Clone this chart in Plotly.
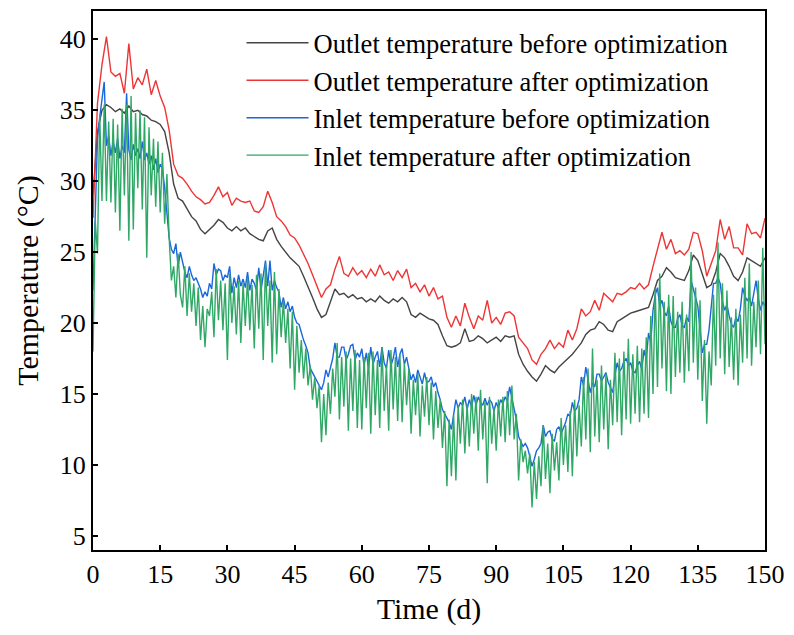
import numpy as np
import plotly.graph_objects as go

# Daily outlet temperatures (day 0..150)
days = list(range(0, 151))
outlet_before = [
    29.0, 33.5, 35.0, 35.4, 35.2, 34.9, 35.1, 34.8, 35.3, 34.9,
    35.0, 34.7, 34.6, 34.3, 34.2, 34.0, 33.5, 32.0, 29.8, 28.8,
    28.6, 28.0, 27.5, 27.2, 26.6, 26.3, 26.6, 26.9, 27.3, 27.1,
    26.7, 26.5, 26.8, 26.5, 26.7, 26.3, 26.1, 25.9, 25.8, 26.5,
    26.7, 25.9, 25.4, 25.0, 24.6, 24.3, 24.0, 23.3, 22.6, 21.8,
    21.0, 20.4, 20.6, 21.5, 22.4, 22.0, 22.1, 21.8, 22.0, 21.7,
    21.8, 21.5, 21.7, 21.5, 21.9, 21.6, 21.4, 21.7, 21.5, 21.8,
    21.5, 20.6, 20.4, 20.7, 20.5, 20.3, 20.2, 19.9, 19.1, 18.4,
    18.3, 18.4, 18.6, 19.6, 18.7, 18.8, 19.1, 18.9, 18.6, 18.8,
    19.0, 18.7, 19.1, 19.0, 19.1, 17.8, 17.1, 16.6, 16.2, 15.9,
    16.4, 17.0, 16.7, 16.5, 16.9, 17.2, 17.5, 17.8, 18.2, 18.6,
    19.2, 19.5, 19.6, 20.1, 19.9, 19.5, 19.4, 20.1, 20.3, 20.5,
    20.7, 20.8, 20.9, 21.0, 21.1, 22.0, 23.0, 23.3, 23.9, 23.6,
    23.2, 23.1, 23.0, 23.7, 24.8, 24.4, 23.4, 22.5, 22.7, 23.6,
    24.9, 24.6, 24.0, 23.3, 23.0, 23.6, 24.6, 24.4, 24.2, 24.0,
    24.6,
]
outlet_after = [
    27.4, 35.5, 38.2, 40.2, 37.7, 37.4, 37.6, 36.2, 39.7, 36.5,
    37.3, 36.8, 37.9, 36.1, 37.1, 36.0, 35.2, 33.6, 31.2, 30.4,
    30.2, 29.8, 29.3, 28.9, 28.7, 28.4, 28.5, 29.0, 29.6, 28.9,
    29.2, 28.3, 28.8, 28.6, 28.5, 28.6, 27.9, 27.8, 28.2, 29.3,
    28.5, 27.5, 27.2, 26.8, 26.2, 26.0, 25.5, 24.9, 24.2, 23.4,
    22.6, 21.8, 22.4, 22.7, 23.8, 24.7, 23.5, 23.3, 23.9, 23.4,
    23.7, 23.2, 23.8, 23.3, 24.1, 23.4, 23.6, 23.0, 23.7, 23.2,
    23.8, 22.5, 22.8, 22.2, 22.7, 21.9, 22.5, 21.7, 21.9, 20.4,
    19.7, 20.5, 19.8, 21.4, 20.4, 19.6, 20.5, 20.2, 21.6, 20.0,
    20.4, 19.9, 20.7, 20.8, 20.5, 19.0, 18.6, 18.2, 17.4, 17.1,
    17.8, 18.2, 18.8, 18.2, 18.6, 18.3, 19.5, 18.8, 19.6, 21.0,
    20.5, 20.8, 21.6, 20.9, 22.1, 21.8, 21.5, 22.1, 22.0, 22.2,
    22.5, 22.4, 22.8, 22.4, 22.7, 24.0, 25.3, 26.4, 25.2, 25.9,
    24.9, 25.1, 24.8, 25.2, 26.4, 26.3, 25.1, 23.3, 24.2, 25.1,
    27.3, 25.9, 26.8, 25.3, 25.3, 24.8, 27.0, 26.3, 26.4, 26.0,
    27.4,
]

# Half-day inlet temperatures (day 0, 0.5, ..., 150)
half_days = [i / 2 for i in range(0, 301)]
inlet_before = [
    22.3, 28.0, 33.0, 34.5, 36.0, 37.0, 32.5, 33.2, 31.8, 32.8,
    32.0, 33.0, 31.6, 32.5, 32.0, 36.2, 32.2, 31.5, 32.6, 31.8,
    32.3, 31.6, 32.8, 31.5, 32.0, 31.2, 31.8, 30.8, 31.6, 30.6,
    31.2, 30.9, 29.5, 28.0, 26.0, 25.2, 24.9, 25.6, 24.0, 25.0,
    24.2, 23.6, 23.2, 24.0, 23.4, 23.0, 23.2, 22.8, 22.4, 21.8,
    22.2, 21.9, 22.8, 22.4, 24.2, 23.4, 23.8, 23.7, 23.0, 23.4,
    23.2, 24.0, 22.1, 23.2, 22.5, 23.4, 22.6, 23.1, 22.5, 23.6,
    22.3, 23.1, 22.8, 22.3, 23.9, 22.3, 23.2, 24.4, 22.6, 24.4,
    22.3, 23.0, 22.5, 22.2, 21.1, 21.8, 21.0, 21.5, 20.8, 21.2,
    20.4, 20.0, 19.9, 19.3, 18.8, 18.4, 17.9, 16.8, 16.5, 16.1,
    15.8, 15.5, 15.3, 15.8, 16.7, 16.2, 16.8, 17.5, 18.6, 17.6,
    17.6, 18.3, 18.3, 17.4, 17.8, 18.4, 18.5, 17.4, 17.9, 17.6,
    18.2, 17.0, 17.9, 16.8, 18.3, 17.1, 17.6, 18.0, 16.9, 18.3,
    17.2, 16.8, 18.1, 17.0, 17.5, 18.3, 16.9, 17.8, 18.2, 17.1,
    17.6, 16.8, 16.0, 16.4, 15.8, 16.7, 16.2, 15.7, 16.5, 15.8,
    15.9, 16.2, 15.5, 15.8, 15.1, 14.6, 13.9, 13.6, 13.4, 13.0,
    12.5, 13.6, 14.6, 14.0, 14.4, 14.2, 14.8, 13.9, 14.6, 14.1,
    14.9, 14.2, 14.8, 14.4, 14.2, 14.7, 14.2, 14.6, 14.4, 13.8,
    14.4, 14.0, 14.6, 14.3, 14.8, 14.5, 15.5, 14.7, 13.9, 13.2,
    12.0, 11.6, 11.3, 11.5, 11.2, 10.6, 9.9, 10.4, 11.0, 11.2,
    11.5, 12.8, 12.0, 12.3, 12.4, 11.8, 11.7, 12.5, 12.7, 12.2,
    12.6, 13.0, 13.6, 13.4, 14.4, 13.8, 14.0, 14.6, 16.2, 15.6,
    16.9, 16.0, 15.1, 15.8, 15.5, 16.4, 16.4, 15.9, 16.2, 16.5,
    15.8, 15.5, 15.1, 16.3, 17.2, 16.6, 16.8, 17.3, 17.5, 17.0,
    17.2, 16.6, 16.5, 17.0, 17.3, 16.7, 18.1, 17.4, 19.3, 18.6,
    20.9, 22.0, 22.5, 21.2, 21.6, 20.8, 20.5, 21.2, 20.1, 19.7,
    19.7, 20.3, 20.6, 19.8, 19.7, 20.4, 20.1, 23.0, 22.3, 21.8,
    21.2, 19.5, 17.9, 18.5, 18.5, 19.5, 21.4, 22.8, 22.8, 23.2,
    22.8, 21.5, 20.9, 21.3, 20.5, 19.9, 19.7, 20.4, 20.1, 21.0,
    22.5, 21.9, 21.6, 21.8, 21.2, 22.0, 23.0, 21.7, 20.9, 21.5,
    21.2,
]
inlet_after = [
    18.0, 27.2, 24.9, 34.7, 28.6, 35.4, 28.6, 34.2, 28.5, 34.4,
    27.8, 34.0, 26.5, 35.1, 29.0, 35.4, 25.8, 36.0, 26.6, 34.8,
    29.5, 35.0, 28.0, 34.5, 24.6, 33.8, 29.0, 33.0, 28.2, 32.8,
    27.8, 32.0, 27.0, 30.5, 26.0, 23.0, 24.0, 21.8, 24.9, 22.0,
    21.1, 24.0, 20.5, 23.5, 20.8, 22.8, 19.8, 22.5, 18.8, 21.2,
    18.3, 21.0, 20.5, 22.2, 19.0, 23.8, 20.2, 23.0, 19.5, 22.8,
    17.4, 23.5, 20.0, 22.6, 19.2, 23.0, 18.6, 22.8, 19.8, 23.2,
    19.5, 22.7, 18.2, 23.4, 19.6, 23.5, 17.4, 24.2, 19.8, 23.0,
    17.2, 23.6, 17.8, 22.4, 19.0, 21.6, 18.6, 21.0, 16.8, 20.8,
    15.3, 19.8, 16.5, 18.8, 16.1, 18.2, 15.6, 17.0, 14.6, 16.2,
    14.0, 15.6, 11.6, 15.0, 12.1, 15.8, 13.6, 16.8, 14.8, 18.6,
    13.2, 17.6, 14.1, 18.0, 12.4, 17.5, 13.8, 18.1, 12.6, 17.4,
    12.5, 17.6, 14.0, 17.9, 12.2, 18.0, 13.5, 17.4, 12.6, 18.3,
    13.8, 17.0, 12.4, 18.1, 13.9, 17.6, 13.1, 17.8, 13.0, 17.2,
    14.2, 16.8, 12.2, 16.0, 13.5, 16.4, 12.0, 15.6, 13.4, 16.2,
    12.8, 15.8, 11.8, 15.2, 12.6, 14.6, 11.2, 13.8, 8.5, 13.2,
    9.2, 13.5, 8.9, 14.2, 11.5, 14.6, 10.8, 14.3, 11.3, 15.0,
    12.2, 14.8, 11.0, 15.3, 11.8, 14.5, 8.7, 14.8, 11.5, 14.0,
    11.0, 14.6, 12.0, 14.8, 11.6, 15.2, 12.1, 15.6, 11.8, 13.6,
    8.9, 11.8, 10.2, 11.0, 9.4, 10.8, 7.0, 10.2, 7.6, 10.6,
    8.5, 12.8, 9.0, 11.5, 8.0, 12.2, 9.6, 11.6, 8.9, 13.3,
    10.0, 12.8, 9.5, 13.8, 9.2, 14.6, 10.6, 14.2, 11.3, 16.2,
    11.8, 16.8, 10.9, 18.2, 12.0, 16.0, 11.6, 17.0, 12.5, 16.4,
    11.1, 16.0, 12.8, 17.9, 13.0, 17.5, 12.1, 18.0, 13.2, 18.9,
    12.9, 17.8, 13.6, 18.4, 13.0, 18.2, 13.6, 19.0, 13.3, 20.5,
    15.0, 22.5, 15.5, 23.5, 16.8, 21.5, 15.2, 22.0, 15.0, 21.9,
    16.2, 20.8, 16.5, 21.5, 15.8, 20.6, 16.6, 25.0, 17.2, 22.5,
    16.0, 21.6, 14.5, 18.8, 12.9, 18.0, 15.6, 22.0, 17.0, 25.7,
    17.5, 22.8, 16.4, 22.3, 16.9, 20.4, 16.0, 21.0, 15.6, 20.6,
    17.2, 23.2, 17.5, 24.2, 17.0, 21.5, 18.3, 23.0, 17.8, 25.3,
    18.5,
]

series_names = [
    "Outlet temperature before optimization",
    "Outlet temperature after optimization",
    "Inlet temperature before optimization",
    "Inlet temperature after optimization",
]
colors = ["#444444", "#ee3535", "#1a66dd", "#2fa866"]

fig = go.Figure()
fig.add_trace(go.Scatter(x=days, y=outlet_before, mode="lines", name=series_names[0],
                         line=dict(color=colors[0], width=1.4)))
fig.add_trace(go.Scatter(x=days, y=outlet_after, mode="lines", name=series_names[1],
                         line=dict(color=colors[1], width=1.4)))
fig.add_trace(go.Scatter(x=half_days, y=inlet_before, mode="lines", name=series_names[2],
                         line=dict(color=colors[2], width=1.4)))
fig.add_trace(go.Scatter(x=half_days, y=inlet_after, mode="lines", name=series_names[3],
                         line=dict(color=colors[3], width=1.4)))

font_family = "Liberation Serif, Times New Roman, serif"
axis_common = dict(
    showgrid=False, zeroline=False, showline=True, linecolor="black", linewidth=2,
    mirror=True, ticks="inside", ticklen=5, tickwidth=1.5, tickcolor="black",
    tickfont=dict(family=font_family, size=26, color="black"),
)
fig.update_xaxes(range=[0, 150], tick0=0, dtick=15,
                 title=dict(text="Time (d)", font=dict(family=font_family, size=30, color="black"), standoff=10),
                 **axis_common)
fig.update_yaxes(range=[4, 42], tick0=5, dtick=5,
                 title=dict(text="Temperature (°C)", font=dict(family=font_family, size=30, color="black"), standoff=12),
                 **axis_common)

fig.update_layout(
    width=794, height=635,
    margin=dict(l=93, r=27, t=9, b=85),
    paper_bgcolor="white", plot_bgcolor="white",
    font=dict(family=font_family, color="black"),
    legend=dict(x=0.221, y=0.985, xanchor="left", yanchor="top",
                bgcolor="rgba(0,0,0,0)", borderwidth=0,
                font=dict(family=font_family, size=26.5, color="black"),
                itemwidth=62, tracegroupgap=0),
    showlegend=True,
)

fig.write_html("out.html")
